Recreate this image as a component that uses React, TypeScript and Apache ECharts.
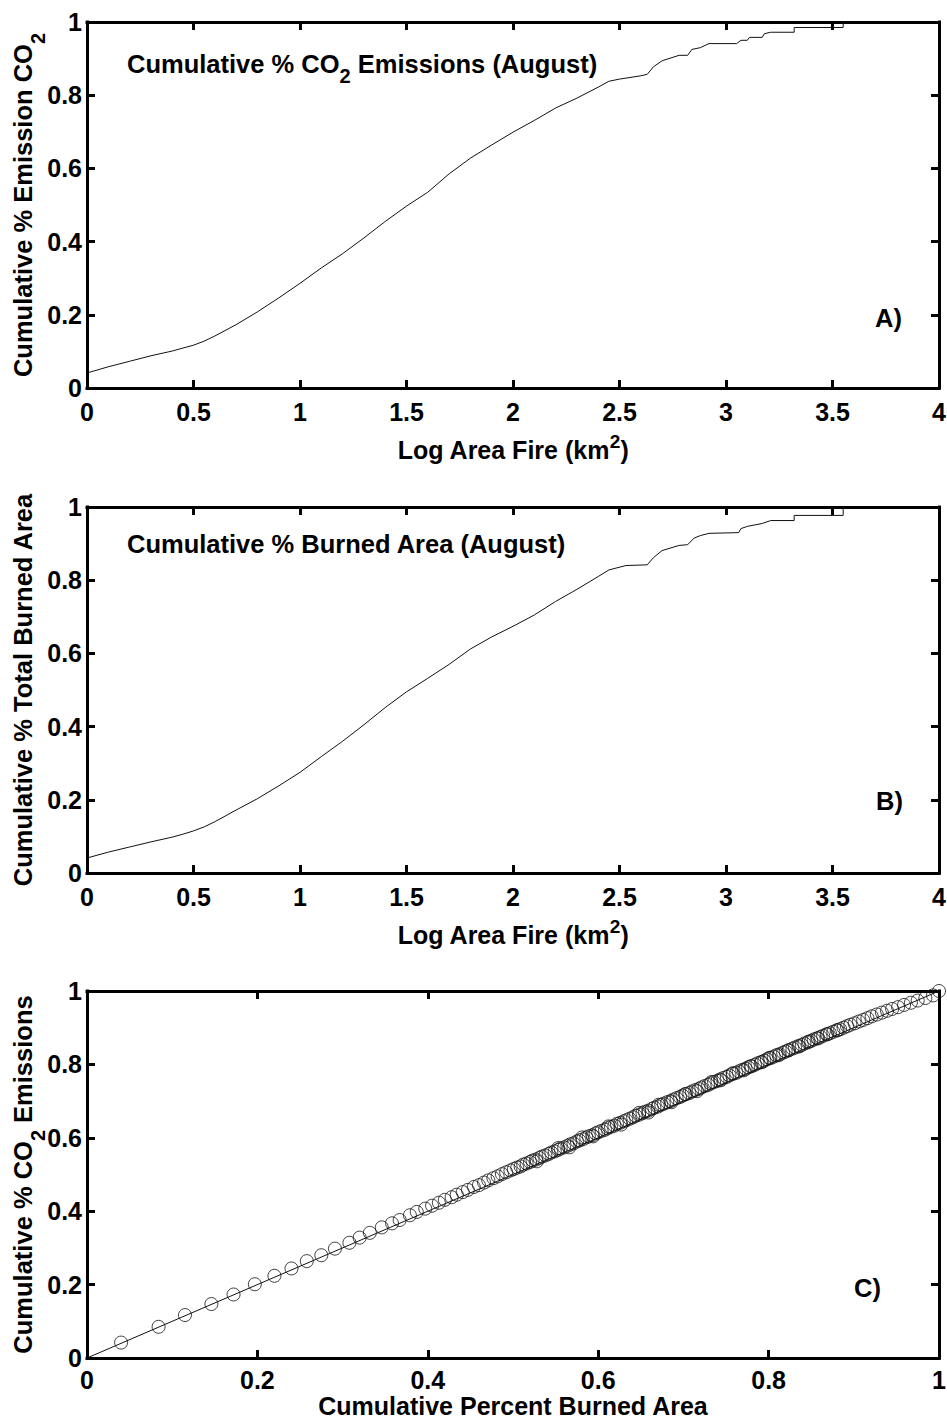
import React, { useEffect, useRef } from 'react';
import * as echarts from 'echarts';

// Panel A: cumulative % CO2 emissions vs log fire area (August)
const logAreaA = [0, 0.1, 0.2, 0.3, 0.4, 0.45, 0.5, 0.55, 0.6, 0.7, 0.8, 0.9, 1.0, 1.1, 1.2, 1.3, 1.4, 1.5, 1.6, 1.7, 1.8, 1.9, 2.0, 2.1, 2.2, 2.3, 2.4, 2.45, 2.5, 2.6, 2.63, 2.66, 2.7, 2.78, 2.82, 2.84, 2.88, 2.92, 3.05, 3.07, 3.1, 3.11, 3.17, 3.18, 3.21, 3.32, 3.32, 3.55, 3.55];
const cumCO2A = [0.041, 0.058, 0.073, 0.088, 0.101, 0.109, 0.117, 0.128, 0.142, 0.173, 0.208, 0.246, 0.286, 0.328, 0.367, 0.41, 0.455, 0.497, 0.535, 0.585, 0.628, 0.664, 0.699, 0.731, 0.765, 0.792, 0.822, 0.838, 0.844, 0.853, 0.857, 0.878, 0.894, 0.909, 0.909, 0.925, 0.93, 0.941, 0.941, 0.95, 0.95, 0.958, 0.958, 0.968, 0.972, 0.972, 0.985, 0.985, 1.0];

// Panel B: cumulative % burned area vs log fire area (August)
const logAreaB = [0, 0.1, 0.2, 0.3, 0.4, 0.45, 0.5, 0.55, 0.6, 0.7, 0.8, 0.9, 1.0, 1.1, 1.2, 1.3, 1.4, 1.5, 1.6, 1.7, 1.8, 1.9, 2.0, 2.1, 2.2, 2.3, 2.4, 2.45, 2.53, 2.63, 2.66, 2.7, 2.78, 2.82, 2.85, 2.88, 2.92, 3.06, 3.07, 3.1, 3.17, 3.21, 3.32, 3.32, 3.55, 3.55];
const cumBurnedB = [0.041, 0.057, 0.071, 0.085, 0.098, 0.106, 0.115, 0.126, 0.14, 0.172, 0.203, 0.238, 0.275, 0.318, 0.36, 0.405, 0.452, 0.495, 0.532, 0.57, 0.612, 0.645, 0.674, 0.705, 0.742, 0.775, 0.81, 0.828, 0.84, 0.842, 0.862, 0.881, 0.895, 0.897, 0.915, 0.922, 0.928, 0.93, 0.941, 0.947, 0.955, 0.963, 0.963, 0.977, 0.977, 1.0];

// Panel C: cumulative burned area vs cumulative CO2 emissions
const cumBurnedC = [
  0.040, 0.084, 0.115, 0.146, 0.172, 0.197, 0.220, 0.240, 0.258, 0.275, 0.291, 0.308, 0.320, 0.332, 0.346, 0.358, 0.367, 0.379, 0.387, 0.397,
  0.405, 0.413, 0.420, 0.428, 0.434, 0.441, 0.447, 0.454, 0.460, 0.466, 0.471, 0.477, 0.482, 0.487, 0.492, 0.497,
  0.501, 0.505, 0.509, 0.512, 0.516, 0.520, 0.523, 0.527, 0.531, 0.534, 0.538, 0.542, 0.545, 0.549, 0.553, 0.556, 0.560, 0.564, 0.567, 0.571,
  0.575, 0.578, 0.582, 0.586, 0.589, 0.593, 0.597, 0.600, 0.604, 0.608, 0.611, 0.615, 0.619, 0.622, 0.626, 0.630, 0.633, 0.637, 0.641, 0.644,
  0.648, 0.652, 0.655, 0.659, 0.663, 0.666, 0.670, 0.674, 0.677, 0.681, 0.685, 0.688, 0.692, 0.696, 0.699, 0.703, 0.707, 0.710, 0.714, 0.718,
  0.721, 0.725, 0.729, 0.732, 0.736, 0.740, 0.743, 0.747, 0.751, 0.754, 0.758, 0.762, 0.765, 0.769, 0.773, 0.776, 0.780, 0.784, 0.787, 0.791,
  0.795, 0.798, 0.802, 0.806, 0.809, 0.813, 0.817, 0.820, 0.824, 0.828, 0.831, 0.835, 0.839, 0.842, 0.846, 0.850, 0.853, 0.857, 0.861, 0.864,
  0.868, 0.872, 0.876, 0.880, 0.884, 0.888, 0.892, 0.896, 0.901, 0.906, 0.911, 0.916, 0.921, 0.927, 0.933, 0.939, 0.945, 0.952, 0.959, 0.967,
  0.975, 0.984, 0.993, 1.000,
  0.553, 0.581, 0.612, 0.648, 0.671, 0.702, 0.733, 0.758, 0.779, 0.801, 0.823, 0.847, 0.869,
  0.528, 0.566, 0.594, 0.627, 0.659, 0.686, 0.716, 0.744, 0.771, 0.792, 0.812, 0.836, 0.858, 0.881
];
const cumCO2C = [
  0.042, 0.085, 0.117, 0.147, 0.173, 0.201, 0.224, 0.244, 0.264, 0.280, 0.298, 0.314, 0.328, 0.341, 0.356, 0.367, 0.376, 0.389, 0.398, 0.407,
  0.415, 0.423, 0.431, 0.438, 0.445, 0.452, 0.458, 0.466, 0.471, 0.478, 0.484, 0.490, 0.495, 0.501, 0.506, 0.511,
  0.515, 0.519, 0.522, 0.527, 0.530, 0.534, 0.538, 0.541, 0.545, 0.549, 0.552, 0.556, 0.560, 0.563, 0.567, 0.571, 0.574, 0.578, 0.582, 0.585,
  0.590, 0.593, 0.596, 0.601, 0.604, 0.607, 0.612, 0.615, 0.619, 0.622, 0.626, 0.630, 0.633, 0.638, 0.641, 0.645, 0.648, 0.652, 0.656, 0.660,
  0.663, 0.667, 0.671, 0.674, 0.679, 0.682, 0.685, 0.690, 0.693, 0.697, 0.700, 0.704, 0.708, 0.711, 0.715, 0.719, 0.722, 0.726, 0.730, 0.733,
  0.737, 0.741, 0.744, 0.748, 0.752, 0.755, 0.759, 0.763, 0.766, 0.770, 0.774, 0.777, 0.781, 0.785, 0.788, 0.792, 0.795, 0.799, 0.803, 0.806,
  0.810, 0.814, 0.817, 0.821, 0.825, 0.828, 0.832, 0.835, 0.839, 0.843, 0.846, 0.850, 0.853, 0.857, 0.860, 0.864, 0.868, 0.871, 0.875, 0.878,
  0.882, 0.885, 0.889, 0.893, 0.896, 0.900, 0.904, 0.908, 0.912, 0.917, 0.921, 0.926, 0.931, 0.936, 0.941, 0.946, 0.951, 0.956, 0.962, 0.968,
  0.974, 0.981, 0.988, 1.000,
  0.572, 0.601, 0.631, 0.668, 0.690, 0.719, 0.752, 0.776, 0.795, 0.818, 0.838, 0.862, 0.882,
  0.536, 0.574, 0.604, 0.636, 0.669, 0.697, 0.727, 0.757, 0.784, 0.806, 0.825, 0.849, 0.871, 0.893
];
const oneToOneX = [0, 1];
const oneToOneY = [0, 1];

const logAxisRange = { min: 0, max: 4, interval: 0.5 };
const fracAxisRange = { min: 0, max: 1, interval: 0.2 };

const FONT = '"Liberation Sans", Arial, Helvetica, sans-serif';
const base = { fontFamily: FONT, fontWeight: 'bold' as const, color: '#000' };

const rich = {
  m: { ...base, fontSize: 25.5, lineHeight: 40 },
  subT: { ...base, fontSize: 20, lineHeight: 40, height: 16, verticalAlign: 'bottom' },
  subY: { ...base, fontSize: 20, lineHeight: 40, height: 10, verticalAlign: 'bottom' },
  mx: { ...base, fontSize: 25, lineHeight: 30 },
  mc: { ...base, fontSize: 25, lineHeight: 20 },
  sup: { ...base, fontSize: 19, lineHeight: 30, height: 12, verticalAlign: 'top' },
};

const zip = (a: number[], b: number[]) => a.map((v, i) => [v, b[i]]);

const GRID_LEFT = 87;
const GRID_RIGHT = 8;

const axisLine = { show: true, onZero: false, lineStyle: { color: '#000', width: 3, cap: 'square' } };
const axisTick = { show: true, inside: true, length: 8, lineStyle: { color: '#000', width: 3 } };
const axisLabel = { fontSize: 25, fontWeight: 'bold', fontFamily: FONT, color: '#000' };

function xAxes(gridIndex: number, range: any, name: string, nameGap: number, labelExtra: any) {
  return [
    {
      type: 'value', gridIndex, position: 'bottom', ...range,
      axisLine, axisTick, splitLine: { show: false },
      axisLabel: { ...axisLabel, ...labelExtra },
      name, nameLocation: 'middle', nameGap, nameMoveOverlap: false,
      nameTextStyle: { rich },
    },
    {
      type: 'value', gridIndex, position: 'top', ...range,
      axisLine, axisTick, splitLine: { show: false },
      axisLabel: { show: false },
    },
  ];
}

function yAxes(gridIndex: number, name: string) {
  return [
    {
      type: 'value', gridIndex, position: 'left', ...fracAxisRange,
      axisLine, axisTick, splitLine: { show: false },
      axisLabel: { ...axisLabel, margin: 5 },
      name, nameLocation: 'middle', nameGap: 44, nameMoveOverlap: false,
      nameTextStyle: { rich, lineHeight: 40 },
    },
    {
      type: 'value', gridIndex, position: 'right', ...fracAxisRange,
      axisLine, axisTick, splitLine: { show: false },
      axisLabel: { show: false },
    },
  ];
}

export default function App() {
  const ref = useRef<HTMLDivElement>(null);

  useEffect(() => {
    document.body.style.margin = '0';
    if (!ref.current) return;
    const chart = echarts.init(ref.current, null, { renderer: 'svg' });

    const titleText = (text: string, left: number, top: number) => ({
      text, left, top, padding: 0, textStyle: { rich },
    });

    const gridBase = { left: GRID_LEFT, right: GRID_RIGHT, containLabel: false, outerBoundsMode: 'none' };

    const option: any = {
      animation: false,
      backgroundColor: '#fff',
      title: [
        titleText('{m|Cumulative % CO}{subT|2}{m| Emissions (August)}', 127, 44),
        titleText('{m|Cumulative % Burned Area (August)}', 127, 524),
        titleText('{m|A)}', 875, 298),
        titleText('{m|B)}', 876, 781),
        titleText('{m|C)}', 854, 1268),
      ],
      grid: [
        { ...gridBase, top: 22, height: 366 },
        { ...gridBase, top: 507, height: 366 },
        { ...gridBase, top: 991, height: 367 },
      ],
      xAxis: [
        ...xAxes(0, logAxisRange, '{mx|Log Area Fire (km}{sup|2}{mx|)}', 47, { margin: 11 }),
        ...xAxes(1, logAxisRange, '{mx|Log Area Fire (km}{sup|2}{mx|)}', 47, { margin: 11 }),
        ...xAxes(2, fracAxisRange, '{mc|Cumulative Percent Burned Area}', 38, { margin: 13, lineHeight: 18 }),
      ],
      yAxis: [
        ...yAxes(0, '{m|Cumulative % Emission CO}{subY|2}'),
        ...yAxes(1, '{m|Cumulative % Total Burned Area}'),
        ...yAxes(2, '{m|Cumulative % CO}{subY|2}{m| Emissions}'),
      ],
      series: [
        {
          type: 'line', xAxisIndex: 0, yAxisIndex: 0,
          data: zip(logAreaA, cumCO2A), symbol: 'none', silent: true,
          lineStyle: { color: '#111', width: 1 },
        },
        {
          type: 'line', xAxisIndex: 2, yAxisIndex: 2,
          data: zip(logAreaB, cumBurnedB), symbol: 'none', silent: true,
          lineStyle: { color: '#111', width: 1 },
        },
        {
          type: 'line', xAxisIndex: 4, yAxisIndex: 4,
          data: zip(oneToOneX, oneToOneY), symbol: 'none', silent: true,
          lineStyle: { color: '#111', width: 1 },
        },
        {
          type: 'scatter', xAxisIndex: 4, yAxisIndex: 4,
          data: zip(cumBurnedC, cumCO2C), symbol: 'circle', symbolSize: 13,
          silent: true, clip: false,
          itemStyle: { color: 'rgba(0,0,0,0)', borderColor: '#111', borderWidth: 1 },
        },
      ],
    };

    chart.setOption(option);
    return () => chart.dispose();
  }, []);

  return <div ref={ref} style={{ width: 947, height: 1422 }} />;
}
